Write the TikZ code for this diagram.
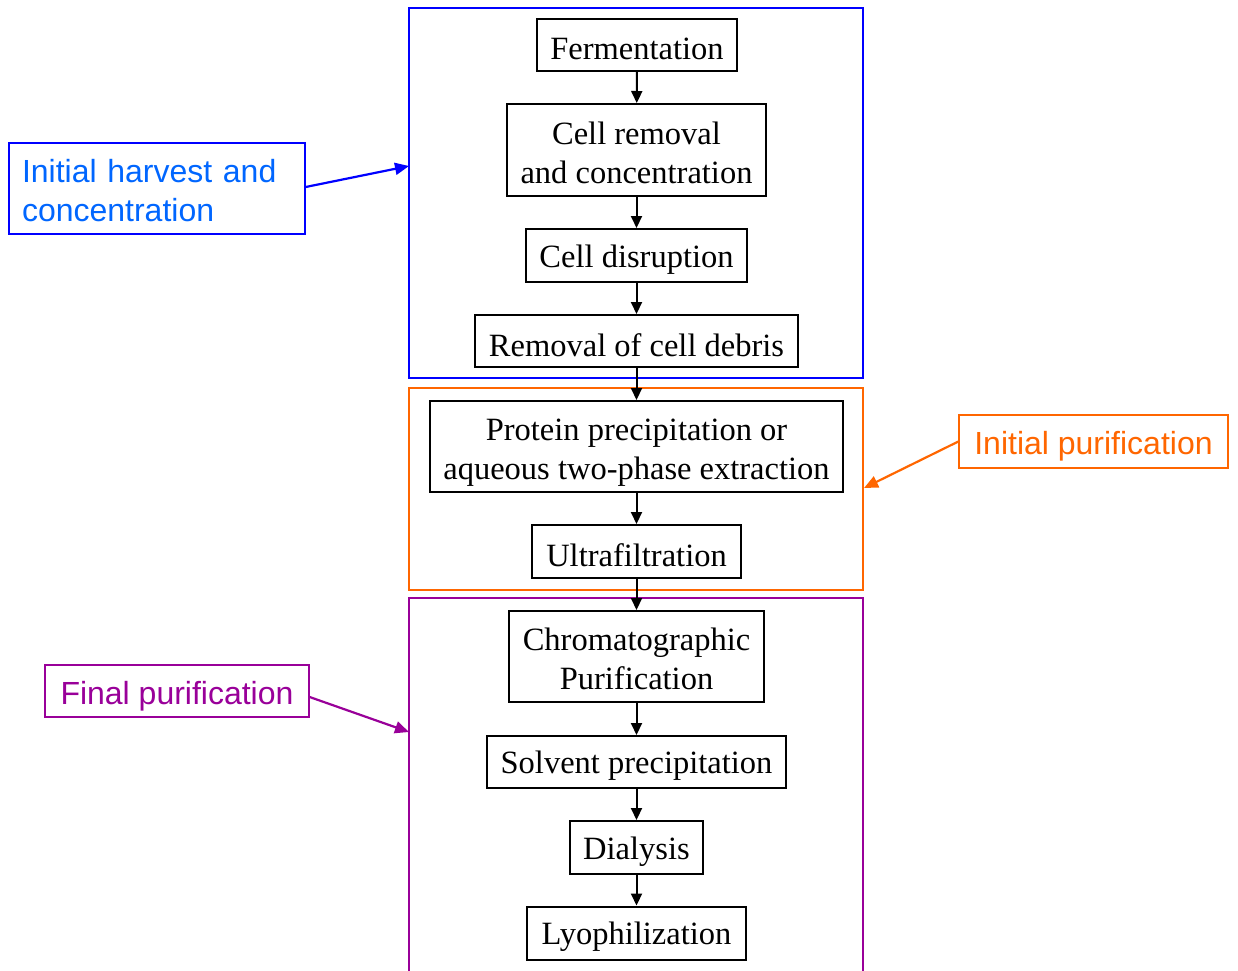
\documentclass[tikz,border=0pt]{standalone}
\usepackage{fontspec}
\setmainfont{Liberation Serif}
\newfontfamily\arialfont{Liberation Sans}
\usetikzlibrary{arrows.meta}
\definecolor{fblue}{RGB}{0,0,255}
\definecolor{tblue}{RGB}{0,102,255}
\definecolor{forange}{RGB}{255,102,0}
\definecolor{fpurple}{RGB}{153,0,153}
\newcommand{\twoline}[3][c]{\raisebox{-6pt}[\height][\depth]{\begin{tabular}{@{}#1@{}}#2\\#3\end{tabular}}}
\newcommand{\oneline}[2][-4pt]{\raisebox{#1}[\height][\depth]{#2}}
\tikzset{
  stepbox/.style={draw=black, line width=2pt, fill=white, align=center, font=\fontsize{32.5}{39}\selectfont, inner sep=0pt},
  frame/.style={draw, line width=2.2pt, inner sep=0pt},
  lab/.style={draw, line width=1.3pt, font=\arialfont\fontsize{32}{39}\selectfont, inner sep=0pt},
  flow/.style={-{Triangle[length=12pt,width=11pt]}, line width=2pt},
  point/.style={-{Triangle[length=14pt,width=12pt]}, line width=2.2pt}
}
\begin{document}
\begin{tikzpicture}[x=1pt,y=-1pt]
\useasboundingbox (0,0) rectangle (1238,970);
\begin{scope}
\clip (0,0) rectangle (1238,970);
\node[frame, draw=fblue, minimum width=454pt, minimum height=370pt] (blueframe) at (636,193) {};
\node[frame, draw=forange, minimum width=454pt, minimum height=202pt] (orangeframe) at (636,489) {};
\node[frame, draw=fpurple, minimum width=454pt, minimum height=400pt] (purpleframe) at (636,798) {};
\end{scope}

\node[stepbox, minimum width=200pt, minimum height=52pt] (ferm) at (637,45) {\oneline{Fermentation}};
\node[stepbox, minimum width=259pt, minimum height=92pt] (crem) at (636.5,150) {\twoline{Cell removal}{and concentration}};
\node[stepbox, minimum width=221pt, minimum height=53pt] (cdis) at (636.5,255.5) {\oneline{Cell disruption}};
\node[stepbox, minimum width=323pt, minimum height=52pt] (rdeb) at (636.5,341) {\oneline{Removal of cell debris}};
\node[stepbox, minimum width=413pt, minimum height=91pt] (prot) at (636.5,446.5) {\twoline{Protein precipitation or}{aqueous two-phase extraction}};
\node[stepbox, minimum width=209pt, minimum height=53pt] (ultra) at (636.5,551.5) {\oneline{Ultrafiltration}};
\node[stepbox, minimum width=255pt, minimum height=91pt] (chrom) at (636.5,656.5) {\twoline{Chromatographic}{Purification}};
\node[stepbox, minimum width=299pt, minimum height=52pt] (solv) at (636.5,762) {\oneline{Solvent precipitation}};
\node[stepbox, minimum width=133pt, minimum height=53pt] (dial) at (636.5,847.5) {\oneline{Dialysis}};
\node[stepbox, minimum width=219pt, minimum height=53pt] (lyo) at (636.5,933) {\oneline{Lyophilization}};

\draw[flow] (ferm) -- (crem);
\draw[flow] (crem) -- (cdis);
\draw[flow] (cdis) -- (rdeb);
\draw[flow] (rdeb) -- (prot);
\draw[flow] (prot) -- (ultra);
\draw[flow] (ultra) -- (chrom);
\draw[flow] (chrom) -- (solv);
\draw[flow] (solv) -- (dial);
\draw[flow] (dial) -- (lyo);

\node[lab, draw=fblue, text=tblue, minimum width=296pt, minimum height=91pt, align=left, text width=270pt] (lblue) at (157,188.5) {\twoline[l]{Initial harvest and}{concentration}};
\node[lab, draw=forange, text=forange, minimum width=269pt, minimum height=53pt] (lorange) at (1093.5,441.5) {\oneline[-5pt]{Initial purification}};
\node[lab, draw=fpurple, text=fpurple, minimum width=264pt, minimum height=52pt] (lpurple) at (177,691) {\oneline[-5pt]{Final purification}};

\coordinate (bluetip) at (409,166);
\coordinate (orangetip) at (864,488);
\coordinate (purpletip) at (409,732);
\draw[point, draw=fblue, fill=fblue] (lblue.east |- 0,187) -- (bluetip);
\draw[point, draw=forange, fill=forange] (lorange.west) -- (orangetip);
\draw[point, draw=fpurple, fill=fpurple] (lpurple.east |- 0,697) -- (purpletip);
\end{tikzpicture}
\end{document}
